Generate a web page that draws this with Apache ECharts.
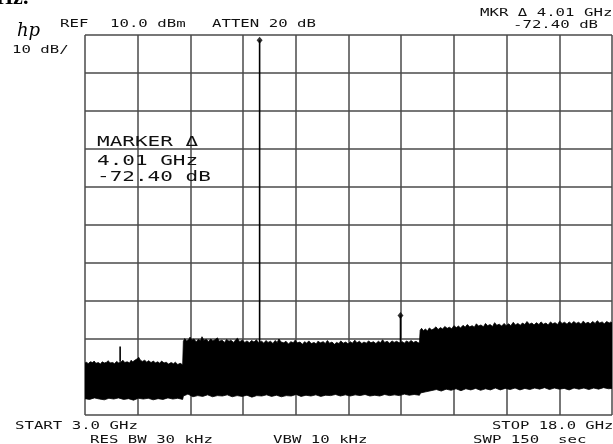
<!DOCTYPE html>
<html>
<head>
<meta charset="utf-8">
<script src="https://cdn.jsdelivr.net/npm/echarts@6/dist/echarts.min.js"></script>
<style>
  html, body { margin: 0; padding: 0; background: #fff; }
  #chart { width: 613px; height: 444px; }
</style>
</head>
<body>
<div id="chart"></div>
<script>
// Spectrum analyzer display: 3.0 - 18.0 GHz span, REF 10.0 dBm, 10 dB/div.
const freqRange = [3.0, 18.0];          // GHz, START / STOP
const freqStep = 1.5;                   // GHz per division
const levelRange = [-90, 10];           // dBm, bottom / reference level
const levelStep = 10;                   // dB per division

// Upper edge of the displayed noise trace [GHz, dBm]
const traceTop = [
  [3.00,-76.3],[3.05,-76.1],[3.09,-76.5],[3.15,-76.0],[3.22,-76.2],[3.26,-75.8],[3.31,-76.4],
  [3.38,-76.2],[3.44,-76.6],[3.49,-76.0],[3.55,-76.3],[3.62,-76.1],[3.66,-75.7],[3.71,-76.3],
  [3.79,-76.2],[3.84,-76.5],[3.90,-75.9],[3.96,-76.3],[4.03,-76.0],[4.08,-75.6],[4.13,-76.2],
  [4.20,-76.0],[4.27,-76.3],[4.31,-75.6],[4.36,-76.0],[4.43,-75.5],[4.49,-75.2],[4.53,-74.8],
  [4.57,-75.5],[4.63,-75.9],[4.70,-75.6],[4.76,-76.1],[4.81,-75.7],[4.88,-76.2],[4.95,-75.8],
  [5.00,-76.3],[5.07,-76.0],[5.13,-76.4],[5.18,-75.8],[5.25,-76.3],[5.31,-76.1],[5.38,-76.6],
  [5.45,-76.2],[5.52,-76.5],[5.57,-76.1],[5.64,-76.7],[5.71,-76.4],[5.78,-76.8],
  [5.80,-70.6],[5.84,-69.9],[5.89,-70.5],[5.95,-70.2],[5.99,-69.5],[6.04,-70.3],[6.10,-70.0],
  [6.17,-70.8],[6.22,-70.1],[6.29,-70.4],[6.33,-69.4],[6.38,-70.3],[6.46,-70.1],[6.51,-70.7],
  [6.58,-70.0],[6.64,-70.5],[6.70,-70.2],[6.77,-69.7],[6.82,-70.6],[6.90,-70.3],[6.97,-70.9],
  [7.03,-70.1],[7.10,-70.6],[7.15,-70.3],[7.23,-70.9],[7.29,-70.2],[7.34,-69.8],[7.40,-70.7],
  [7.48,-70.3],[7.55,-70.9],[7.61,-70.5],[7.68,-71.0],[7.74,-70.4],[7.81,-70.8],[7.88,-70.2],
  [7.93,-70.9],[8.03,-70.6],[8.09,-71.1],[8.15,-70.4],[8.21,-70.9],[8.28,-70.6],[8.35,-71.2],
  [8.41,-70.4],[8.47,-70.9],[8.52,-70.0],[8.58,-70.8],[8.66,-71.0],[8.72,-70.6],[8.79,-71.3],
  [8.86,-70.7],[8.93,-71.0],[8.98,-70.3],[9.04,-71.0],[9.12,-70.8],[9.19,-71.4],[9.25,-70.7],
  [9.31,-71.1],[9.37,-70.5],[9.44,-71.2],[9.52,-70.9],[9.58,-71.3],[9.63,-70.6],[9.70,-71.0],
  [9.78,-70.7],[9.84,-71.2],[9.90,-70.4],[9.96,-71.1],[10.03,-70.8],[10.10,-71.4],[10.16,-70.9],
  [10.23,-71.2],[10.28,-70.5],[10.35,-71.1],[10.42,-70.8],[10.49,-71.3],[10.55,-70.7],[10.61,-71.1],
  [10.68,-70.3],[10.74,-71.0],[10.81,-70.6],[10.88,-71.2],[10.94,-70.8],[11.01,-71.1],[11.07,-70.5],
  [11.14,-71.0],[11.21,-70.7],[11.28,-71.2],[11.35,-70.6],[11.41,-71.0],[11.47,-70.2],[11.53,-70.9],
  [11.60,-70.6],[11.67,-71.1],[11.74,-70.5],[11.80,-70.9],[11.87,-70.6],[11.94,-71.0],[12.03,-70.7],
  [12.09,-71.1],[12.15,-70.5],[12.22,-70.9],[12.28,-70.4],[12.35,-70.9],[12.42,-70.6],[12.48,-71.0],
  [12.52,-71.0],
  [12.54,-67.7],[12.58,-67.2],[12.63,-67.8],[12.69,-67.4],[12.75,-67.9],[12.80,-67.1],[12.87,-67.6],
  [12.93,-67.3],[12.99,-66.8],[13.05,-67.5],[13.12,-67.0],[13.18,-67.4],[13.24,-66.7],[13.31,-67.2],
  [13.37,-66.9],[13.44,-67.3],[13.50,-66.5],[13.57,-67.0],[13.63,-66.6],[13.69,-67.1],[13.76,-66.4],
  [13.82,-66.9],[13.88,-66.2],[13.95,-66.8],[14.02,-66.5],[14.08,-66.9],[14.14,-66.0],[14.20,-66.6],
  [14.27,-66.3],[14.34,-66.8],[14.40,-65.9],[14.46,-66.5],[14.53,-66.2],[14.60,-66.7],[14.66,-65.7],
  [14.72,-66.4],[14.79,-66.1],[14.86,-66.6],[14.93,-65.9],[14.99,-66.5],[15.06,-66.0],[15.12,-66.5],
  [15.19,-65.6],[15.25,-66.3],[15.32,-65.9],[15.39,-66.4],[15.45,-65.8],[15.52,-66.2],[15.58,-65.4],
  [15.65,-66.1],[15.72,-65.8],[15.78,-66.3],[15.85,-65.7],[15.92,-66.2],[15.98,-65.5],[16.05,-66.1],
  [16.12,-65.8],[16.18,-66.3],[16.25,-65.5],[16.31,-66.0],[16.38,-65.7],[16.45,-66.2],[16.51,-65.3],
  [16.58,-65.9],[16.65,-65.6],[16.72,-66.1],[16.78,-65.5],[16.85,-66.0],[16.91,-65.4],[16.98,-65.9],
  [17.05,-65.6],[17.12,-66.1],[17.18,-65.3],[17.25,-65.9],[17.32,-65.6],[17.38,-66.0],[17.45,-65.4],
  [17.52,-65.9],[17.58,-65.2],[17.65,-65.8],[17.72,-65.5],[17.78,-66.0],[17.85,-65.4],[17.92,-65.8],
  [17.97,-65.5],[18.00,-65.8]
];

// Lower edge of the displayed noise trace [GHz, dBm]
const traceBottom = [
  [3.00,-85.7],[3.13,-85.9],[3.27,-85.5],[3.41,-85.8],[3.55,-86.0],[3.68,-85.6],[3.82,-85.8],
  [3.95,-85.5],[4.10,-85.9],[4.24,-85.7],[4.38,-86.1],[4.52,-85.6],[4.66,-85.8],[4.80,-85.6],
  [4.94,-86.0],[5.08,-85.7],[5.22,-85.9],[5.36,-85.5],[5.50,-85.8],[5.64,-85.6],[5.78,-85.9],
  [5.80,-85.0],[5.93,-84.5],[6.07,-85.2],[6.21,-84.9],[6.35,-85.1],[6.49,-84.7],[6.63,-85.2],
  [6.77,-84.9],[6.91,-85.0],[7.05,-84.7],[7.19,-85.2],[7.33,-84.9],[7.47,-85.1],[7.61,-84.8],
  [7.75,-85.3],[7.89,-84.9],[8.03,-85.0],[8.17,-84.7],[8.31,-85.1],[8.45,-84.8],[8.59,-85.2],
  [8.73,-84.9],[8.87,-85.0],[9.01,-84.6],[9.15,-85.1],[9.29,-84.8],[9.43,-85.0],[9.57,-84.7],
  [9.71,-85.1],[9.85,-84.8],[9.99,-84.9],[10.13,-84.6],[10.27,-85.0],[10.41,-84.7],[10.55,-85.0],
  [10.69,-84.7],[10.83,-84.9],[10.97,-84.6],[11.11,-85.0],[11.25,-84.8],[11.39,-85.0],[11.53,-84.6],
  [11.67,-84.9],[11.81,-84.7],[11.95,-84.9],[12.09,-84.5],[12.23,-84.8],[12.37,-84.6],[12.52,-84.8],
  [12.55,-84.2],[12.70,-83.9],[12.85,-83.6],[13.00,-83.3],[13.14,-83.7],[13.28,-83.2],[13.42,-83.5],
  [13.56,-83.1],[13.70,-83.6],[13.84,-83.1],[13.98,-83.4],[14.12,-83.0],[14.26,-83.5],[14.40,-83.1],
  [14.54,-83.4],[14.68,-82.9],[14.82,-83.4],[14.96,-83.0],[15.10,-83.3],[15.24,-82.9],[15.38,-83.4],
  [15.52,-83.0],[15.66,-83.3],[15.80,-82.9],[15.94,-83.2],[16.08,-82.8],[16.22,-83.3],[16.36,-82.9],
  [16.50,-83.2],[16.64,-83.0],[16.78,-83.4],[16.92,-82.9],[17.06,-83.2],[17.20,-82.9],[17.34,-83.3],
  [17.48,-82.9],[17.62,-83.2],[17.76,-82.8],[17.90,-83.1],[18.00,-83.0]
];

// Discrete signals rising out of the noise [GHz, peak dBm, noise-top dBm]
const spikes = [
  [4.00, -72.0, -76.0],
  [7.97,   8.6, -71.0],
  [11.98, -63.8, -71.0]
];

// Reference marker and delta marker positions [GHz, dBm]
const markers = [
  [7.97, 8.6],
  [11.98, -63.8]
];

const ink = '#111';
const mono = '"DejaVu Sans Mono", "Liberation Mono", monospace';

function label(text, x, y, size, scaleX) {
  return {
    type: 'text', x: x, y: y, scaleX: scaleX, z: 10,
    style: { text: text, fill: ink, font: 'normal ' + size + 'px ' + mono,
             textAlign: 'left', textVerticalAlign: 'middle' }
  };
}

const chart = echarts.init(document.getElementById('chart'), null, { renderer: 'canvas' });

chart.setOption({
  animation: false,
  backgroundColor: '#fff',
  grid: { left: 85, top: 35, width: 527, height: 380, containLabel: false },
  xAxis: {
    type: 'value', min: freqRange[0], max: freqRange[1], interval: freqStep,
    axisLabel: { show: false }, axisTick: { show: false }, axisLine: { show: false },
    splitLine: { show: true, showMinLine: true, showMaxLine: true, lineStyle: { color: '#4a4a4a', width: 1.5 } }
  },
  yAxis: {
    type: 'value', min: levelRange[0], max: levelRange[1], interval: levelStep,
    axisLabel: { show: false }, axisTick: { show: false }, axisLine: { show: false },
    splitLine: { show: true, showMinLine: true, showMaxLine: true, lineStyle: { color: '#4a4a4a', width: 1.5 } }
  },
  series: [
    {
      type: 'custom', silent: true, clip: true,
      data: [[freqRange[0], levelRange[0]]],
      renderItem: function (params, api) {
        const upper = traceTop.map(p => api.coord(p));
        const lower = traceBottom.slice().reverse().map(p => api.coord(p));
        return { type: 'polygon', shape: { points: upper.concat(lower) },
                 style: { fill: '#000', stroke: '#000', lineWidth: 0.8 } };
      }
    },
    {
      type: 'custom', silent: true, clip: true,
      data: spikes,
      encode: { x: 0, y: 1 },
      renderItem: function (params, api) {
        const f = api.value(0), peak = api.value(1), base = api.value(2);
        const a = api.coord([f, base]), b = api.coord([f, peak]);
        return { type: 'line', shape: { x1: a[0], y1: a[1], x2: b[0], y2: b[1] },
                 style: { stroke: '#000', lineWidth: 1.6 } };
      }
    },
    {
      type: 'scatter', silent: true,
      data: markers, symbol: 'diamond', symbolSize: [6, 7],
      itemStyle: { color: '#000' }
    }
  ],
  graphic: [
    { type: 'text', x: -4, y: 9, z: 10,
      style: { text: 'Hz.', fill: '#000', font: 'bold 22px "Liberation Serif", serif',
               textAlign: 'left', textVerticalAlign: 'bottom' } },
    { type: 'text', x: 17, y: 31, z: 10,
      style: { text: 'hp', fill: '#000', font: 'italic 18px "DejaVu Serif", serif',
               textAlign: 'left', textVerticalAlign: 'middle' } },
    label('MKR Δ 4.01 GHz', 480, 13, 10, 1.57),
    label('-72.40 dB', 513, 25, 10, 1.57),
    label('REF', 60, 24.5, 10, 1.57),
    label('10.0 dBm', 110, 24.5, 10, 1.57),
    label('ATTEN 20 dB', 212, 24.5, 10, 1.57),
    label('10 dB/', 12, 50.5, 10, 1.57),
    label('MARKER Δ', 97, 142, 14, 1.5),
    label('4.01 GHz', 97, 161, 14, 1.5),
    label('-72.40 dB', 97, 177.5, 14, 1.5),
    label('START 3.0 GHz', 15, 426, 10, 1.57),
    label('STOP 18.0 GHz', 492, 426, 10, 1.55),
    label('RES BW 30 kHz', 90, 440.5, 10, 1.57),
    label('VBW 10 kHz', 273, 440.5, 10, 1.57),
    label('SWP 150  sec', 473, 440.5, 10, 1.57)
  ]
});
</script>
</body>
</html>
